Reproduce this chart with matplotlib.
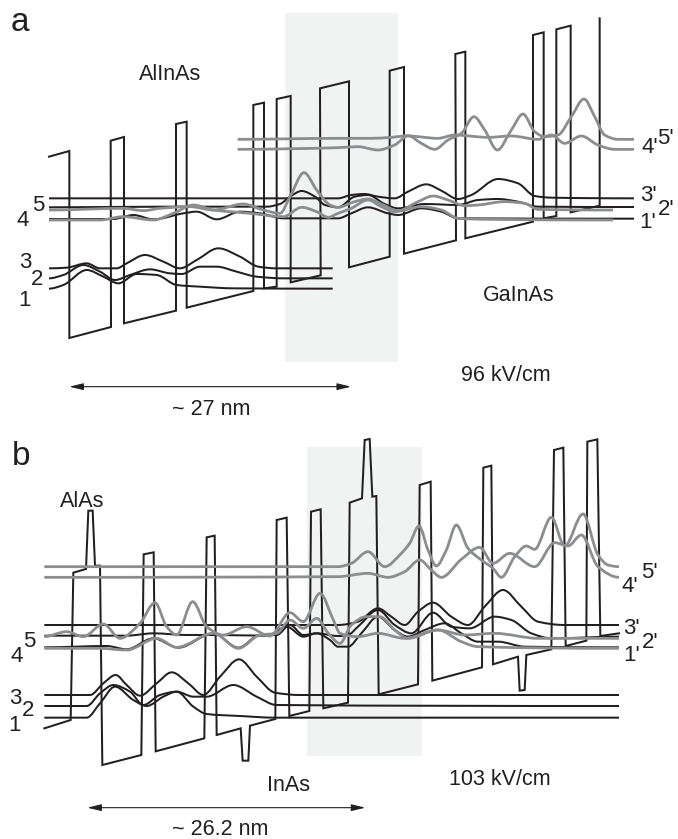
import numpy as np
import matplotlib
matplotlib.use("Agg")
import matplotlib.pyplot as plt
from matplotlib.path import Path
from matplotlib.patches import PathPatch, Rectangle

plt.rcParams['font.family'] = ['Liberation Sans', 'DejaVu Sans']

# Everything in units of 1/3 pixel.
OFF_Y_B = 1260

# ---- Panel a: conduction band profile
A_BAND = [(147,470),(208,453),(208,1014),(333,981),(332,422),(372,411),(372,970),(528,932),(528,372),(560,365),
          (560,923),(760,873),(760,315),(792,308),(792,865),(830,860),(830,297),(872,288),(872,847),(962,826),
          (960,265),(1047,244),(1047,802),(1169,770),(1169,212),(1212,201),(1212,761),(1368,721),(1366,162),
          (1396,155),(1396,715),(1599,665),(1599,105),(1631,97),(1631,655),(1669,648),(1669,88),(1712,77),
          (1712,637),(1799,617),(1799,55)]
# ---- Panel a: lower levels
A_L3 = [(147,805),(200,803),(260,790),(300,805),(350,805),(380,790),(435,765),(490,785),(540,805),(590,780),(655,745),(720,770),(775,800),(830,805),(998,805)]
A_L2 = [(147,835),(190,825),(250,795),(300,815),(345,840),(390,825),(450,808),(510,820),(545,822),(600,800),(650,800),(710,815),(770,830),(850,835),(998,835)]
A_L1 = [(147,866),(190,855),(260,810),(310,830),(355,850),(410,822),(470,825),(530,855),(600,860),(700,865),(998,866)]
# ---- Panel a: upper black levels
A_U3 = [(147,595),(500,595),(1014,595),(1054,585),(1094,582),(1134,590),(1184,595),(1224,575),(1279,553),(1324,572),(1374,597),(1414,585),(1494,537),(1554,550),(1604,588),(1654,593),(1902,595)]
A_U2 = [(147,622),(500,620),(800,620),(840,612),(870,590),(905,573),(945,590),(975,615),(1014,622),(1064,590),(1104,585),(1154,612),(1194,625),(1274,612),(1374,615),(1434,600),(1494,597),(1554,605),(1614,620),(1902,621)]
A_U1 = [(147,657),(340,657),(400,645),(460,658),(550,640),(590,635),(650,658),(720,635),(780,640),(850,655),(1014,655),(1054,640),(1104,622),(1164,640),(1194,645),(1264,625),(1324,635),(1374,655),(1902,656)]
# ---- Panel a: grey levels
A_G5 = [(147,630),(370,625),(430,632),(480,625),(570,620),(640,630),(730,612),(790,630),(840,640),(870,590),(912,518),(950,570),(990,615),(1014,622),(1064,605),(1104,597),(1144,612),(1194,632),(1254,605),(1299,588),(1344,600),(1394,617),(1434,615),(1514,605),(1574,610),(1614,628),(1839,630)]
A_G4 = [(147,660),(300,660),(370,650),(460,660),(520,640),(580,615),(640,630),(750,640),(850,650),(905,622),(950,635),(985,652),(1014,640),(1054,625),(1104,600),(1144,620),(1184,635),(1264,620),(1324,630),(1374,655),(1464,658),(1839,660)]
A_G5P = [(713,418),(1014,415),(1114,415),(1174,412),(1224,407),(1264,430),(1304,448),(1344,420),(1384,400),(1422,350),(1454,390),(1492,450),(1534,390),(1569,342),(1604,395),(1634,410),(1674,405),(1714,350),(1752,297),(1784,350),(1814,405),(1854,418),(1902,418)]
A_G4P = [(713,448),(1014,443),(1074,440),(1134,450),(1184,435),(1224,408),(1314,415),(1364,405),(1464,412),(1534,408),(1614,418),(1654,405),(1694,430),(1744,408),(1794,435),(1844,448),(1902,448)]

# ---- Panel b: conduction band profile
B_BAND = [(133,925),(212,900),(220,458),(258,447),(265,272),(278,272),(285,437),(300,437),(307,1035),(424,1005),
          (431,403),(461,397),(467,994),(613,955),(620,352),(644,347),(650,945),(722,925),(728,1022),(745,1022),
          (750,917),(826,897),(830,300),(860,293),(868,888),(928,873),(933,275),(962,268),(970,865),(1044,848),
          (1049,248),(1086,235),(1094,60),(1109,57),(1117,230),(1129,228),(1136,823),(1254,793),(1259,195),
          (1292,185),(1297,782),(1446,742),(1450,143),(1474,137),(1479,733),(1554,710),(1559,812),(1574,810),
          (1579,705),(1654,688),(1662,90),(1690,83),(1697,678),(1759,662),(1762,65),(1792,58),(1801,648),(1857,640)]
# ---- Panel b: lower levels
B_L3 = [(133,825),(270,825),(310,790),(347,765),(380,795),(420,827),(470,790),(515,757),(565,790),(610,825),(660,770),(717,718),(770,770),(825,818),(900,825),(1857,825)]
B_L2 = [(133,858),(260,858),(300,820),(340,795),(390,815),(430,855),(480,825),(530,815),(580,830),(620,830),(700,795),(770,830),(830,855),(1857,858)]
B_L1 = [(133,893),(260,893),(300,850),(345,800),(400,840),(440,858),(490,830),(530,815),(580,860),(620,882),(720,888),(825,893),(1857,893)]
# ---- Panel b: upper black levels
B_U3 = [(133,615),(1014,615),(1074,605),(1134,565),(1174,590),(1214,615),(1254,575),(1299,548),(1354,590),(1404,615),(1454,560),(1509,510),(1564,560),(1614,605),(1694,615),(1857,615)]
B_U2 = [(133,647),(380,647),(460,640),(560,645),(640,645),(800,647),(860,620),(910,650),(950,640),(1014,648),(1044,645),(1074,620),(1134,570),(1184,615),(1234,640),(1299,578),(1354,620),(1409,625),(1484,590),(1534,600),(1594,640),(1654,655),(1857,650)]
B_U1 = [(133,682),(320,678),(380,688),(460,655),(535,683),(640,640),(715,683),(780,645),(830,645),(870,615),(910,645),(950,640),(990,660),(1014,680),(1044,680),(1084,640),(1134,590),(1184,630),(1224,650),(1274,630),(1334,610),(1384,640),(1434,665),(1494,665),(1574,680),(1857,682)]
# ---- Panel b: grey levels
B_G5 = [(133,650),(200,635),(250,650),(310,612),(360,655),(420,610),(465,548),(500,620),(530,645),(578,545),(620,620),(670,645),(740,620),(810,648),(870,578),(910,605),(960,520),(1000,600),(1020,640),(1074,650),(1134,640),(1214,655),(1314,630),(1394,645),(1484,640),(1614,655),(1857,655)]
B_G4 = [(133,685),(300,685),(380,690),(470,655),(530,682),(640,640),(715,685),(780,645),(830,640),(870,600),(910,625),(950,595),(985,640),(1020,670),(1054,615),(1099,590),(1139,590),(1184,630),(1224,655),(1314,630),(1384,665),(1434,680),(1857,685)]
B_G5P = [(133,440),(1014,440),(1054,430),(1104,395),(1154,440),(1204,400),(1229,370),(1257,318),(1284,390),(1309,438),(1339,390),(1369,315),(1404,385),(1444,420),(1479,445),(1504,472),(1544,410),(1579,378),(1604,388),(1654,292),(1694,378),(1749,282),(1794,405),(1824,435),(1857,440)]
B_G4P = [(133,472),(1014,470),(1104,460),(1164,472),(1214,455),(1259,420),(1294,450),(1324,472),(1384,418),(1439,382),(1479,430),(1529,400),(1604,440),(1664,368),(1704,378),(1744,345),(1794,440),(1857,472)]

# ---- Text
A_LABELS = {"5": (115,610), "4": (68,655), "3": (75,782), "2": (110,832), "1": (73,897),
            "5'": (1997,410), "4'": (1949,438), "3'": (1944,580), "2'": (1999,622), "1'": (1944,662)}
B_LABELS = {"5": (88,660), "4": (50,705), "3": (45,830), "2": (85,865), "1": (43,912),
            "5'": (1949,452), "4'": (1889,495), "3'": (1894,620), "2'": (1952,662), "1'": (1894,700)}
A_TEXT = {"AlInAs": (510,217), "GaInAs": (1556,882), "96 kV/cm": (1517,1120), "~ 27 nm": (633,1222)}
B_TEXT = {"AlAs": (246,240), "InAs": (865,1090), "103 kV/cm": (1500,1072), "~ 26.2 nm": (662,1222)}
A_SHADE = (855, 40, 1194, 1085)
B_SHADE = (920, 80, 1266, 1007)
A_ARROW = (208, 1160, 1053)
B_ARROW = (262, 1163, 1096)

BLACK = "#231f20"
GREY = "#8b8d8f"
SHADE = "#f1f2f2"


def smooth(points, off):
    """Bezier path through the read points, with no overshoot between them."""
    p = np.array(points, float) + [0, off]
    x, y = p[:, 0], p[:, 1]
    dx = np.diff(x)
    s = np.diff(y) / dx
    m = np.zeros(len(p))
    for i in range(1, len(p) - 1):
        if s[i - 1] * s[i] > 0:
            w1, w2 = 2 * dx[i] + dx[i - 1], dx[i] + 2 * dx[i - 1]
            m[i] = (w1 + w2) / (w1 / s[i - 1] + w2 / s[i])
    verts = [p[0]]
    codes = [Path.MOVETO]
    for i in range(len(p) - 1):
        h = dx[i] / 3
        verts += [(x[i] + h, y[i] + m[i] * h), (x[i + 1] - h, y[i + 1] - m[i + 1] * h), p[i + 1]]
        codes += [Path.CURVE4] * 3
    return Path(verts, codes)


fig = plt.figure(figsize=(6.78, 8.39), dpi=100)
ax = fig.add_axes([0, 0, 1, 1])
ax.set_xlim(0, 2034)
ax.set_ylim(2517, 0)
ax.axis("off")


def draw_panel(off, shade, band, black, grey, labels, texts, arrow):
    x0, y0, x1, y1 = shade
    ax.add_patch(Rectangle((x0, y0 + off), x1 - x0, y1 - y0, fc=SHADE, ec="none", zorder=1))
    xs, ys = zip(*band)
    ax.plot(xs, np.array(ys) + off, color=BLACK, lw=1.45, zorder=2, solid_joinstyle="miter")
    for c in black:
        ax.add_patch(PathPatch(smooth(c, off), fc="none", ec=BLACK, lw=1.45, zorder=3))
    for c in grey:
        ax.add_patch(PathPatch(smooth(c, off), fc="none", ec=GREY, lw=2.0, zorder=4))
    for s, (x, y) in labels.items():
        ax.text(x, y + off + 22, s, fontsize=16, color=BLACK, ha="center", va="baseline", zorder=5)
    for s, (x, y) in texts.items():
        ax.text(x, y + off + 22, s, fontsize=15.5, color=BLACK, ha="center", va="baseline", zorder=5)
    a, y, b = arrow
    ax.annotate("", xy=(a, y + off), xytext=(b, y + off),
                arrowprops=dict(arrowstyle="<|-|>,head_length=0.7,head_width=0.17", color=BLACK,
                                lw=0.8, shrinkA=0, shrinkB=0, mutation_scale=12), zorder=5)


draw_panel(0, A_SHADE, A_BAND, [A_L3, A_L2, A_L1, A_U3, A_U2, A_U1],
           [A_G5, A_G4, A_G5P, A_G4P], A_LABELS, A_TEXT, A_ARROW)
draw_panel(OFF_Y_B, B_SHADE, B_BAND, [B_L3, B_L2, B_L1, B_U3, B_U2, B_U1],
           [B_G5, B_G4, B_G5P, B_G4P], B_LABELS, B_TEXT, B_ARROW)

ax.text(60, 92, "a", fontsize=24, color=BLACK, ha="center", va="baseline")
ax.text(62, 1395, "b", fontsize=24, color=BLACK, ha="center", va="baseline")

fig.savefig("out.png", dpi=100)
